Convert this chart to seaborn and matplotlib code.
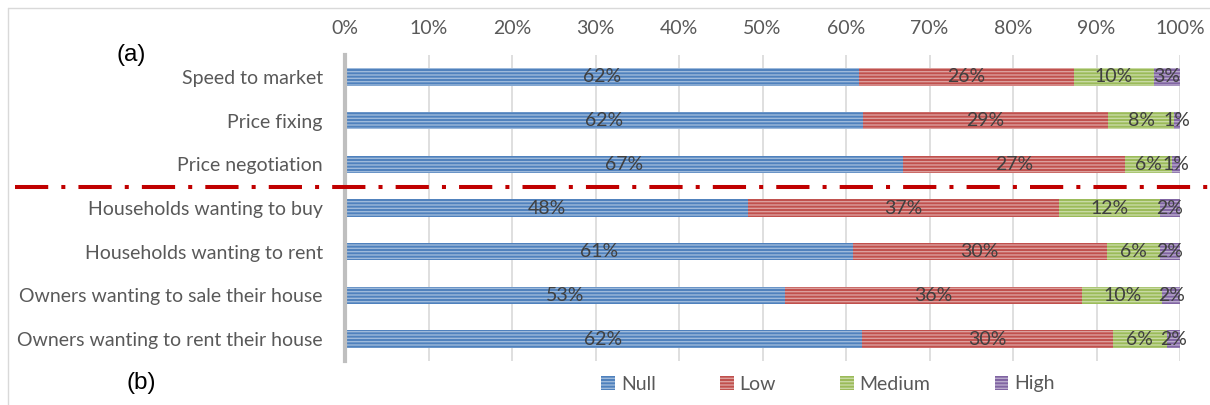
import matplotlib
matplotlib.use("Agg")
import matplotlib.pyplot as plt
import matplotlib.colors as mcolors
from matplotlib.lines import Line2D
from matplotlib.patches import Patch
import pandas as pd
import seaborn as sns

categories = [
    "Speed to market",
    "Price fixing",
    "Price negotiation",
    "Households wanting to buy",
    "Households wanting to rent",
    "Owners wanting to sale their house",
    "Owners wanting to rent their house",
]
levels = ["Null", "Low", "Medium", "High"]
null_vals = [61.6, 62.0, 66.8, 48.3, 60.8, 52.7, 61.9]
low_vals = [25.7, 29.4, 26.6, 37.2, 30.4, 35.6, 30.1]
medium_vals = [9.6, 7.9, 5.7, 12.1, 6.4, 9.6, 6.4]
high_vals = [3.1, 0.7, 0.9, 2.4, 2.4, 2.1, 1.6]
tick_vals = list(range(0, 101, 10))

colors = {"Null": "#4F81BD", "Low": "#C0504D", "Medium": "#9BBB59", "High": "#8064A2"}


def lighten(c, amt=0.45):
    r, g, b = mcolors.to_rgb(c)
    return (r + (1 - r) * amt, g + (1 - g) * amt, b + (1 - b) * amt)


def main():
    sns.set_style("white")
    plt.rcParams["font.family"] = ["Lato", "DejaVu Sans"]
    plt.rcParams["hatch.linewidth"] = 1.0

    df = pd.DataFrame({"category": categories, "Null": null_vals, "Low": low_vals,
                       "Medium": medium_vals, "High": high_vals})
    cum = df[levels].cumsum(axis=1)

    fig = plt.figure(figsize=(12.1, 4.05), dpi=100)
    ax = fig.add_axes([345 / 1210, 1 - 361 / 405, 835 / 1210, 306 / 405])

    for lvl in reversed(levels):
        sns.barplot(x=cum[lvl], y=df["category"], orient="h", color=colors[lvl],
                    saturation=1, width=0.4, ax=ax, hatch="-----",
                    edgecolor=lighten(colors[lvl]), linewidth=0, zorder=2)

    # percentage labels in the middle of each segment
    for lvl in levels:
        for i, (v, c) in enumerate(zip(df[lvl], cum[lvl])):
            ax.text(c - v / 2, i, f"{round(v):.0f}%", ha="center", va="center",
                    fontsize=14, color="#404040", zorder=5)

    ax.set_xlim(0, 100)
    ax.set_xticks(tick_vals)
    ax.set_xticklabels([f"{t}%" for t in tick_vals])
    ax.xaxis.tick_top()
    ax.tick_params(axis="x", length=0, pad=13, labelsize=14, labelcolor="#595959")
    ax.tick_params(axis="y", length=0, pad=16, labelsize=14, labelcolor="#595959")
    ax.set_xlabel("")
    ax.set_ylabel("")
    ax.grid(axis="x", color="#D9D9D9", linewidth=1.2, zorder=0)
    ax.set_axisbelow(True)
    for side in ["top", "right", "bottom"]:
        ax.spines[side].set_visible(False)
    ax.spines["left"].set_color("#BFBFBF")
    ax.spines["left"].set_linewidth(3)

    # separator between (a) and (b)
    fig.add_artist(Line2D([15 / 1210, 1.0], [1 - 187 / 405] * 2, color="#C00000",
                          linewidth=2.9, dashes=(8.25, 3.25, 1.0, 3.25)))
    # outer frame (top / left)
    fig.add_artist(Line2D([8 / 1210, 1.0], [1 - 8 / 405] * 2, color="#D9D9D9", linewidth=1))
    fig.add_artist(Line2D([8 / 1210] * 2, [0, 1 - 8 / 405], color="#D9D9D9", linewidth=1))

    fig.text(131 / 1210, 1 - 55 / 405, "(a)", fontsize=17.5, family="Liberation Sans",
             ha="center", va="center", color="black")
    fig.text(141 / 1210, 1 - 383 / 405, "(b)", fontsize=17.5, family="Liberation Sans",
             ha="center", va="center", color="black")

    handles = [Patch(facecolor=colors[l], edgecolor=lighten(colors[l]), hatch="-----",
                     linewidth=0) for l in levels]
    fig.legend(handles, levels, loc="center", bbox_to_anchor=(828 / 1210, 1 - 384 / 405),
               ncol=4, frameon=False, fontsize=14, labelcolor="#595959",
               handlelength=0.7, handleheight=0.7, handletextpad=0.3, columnspacing=3.3)

    fig.savefig("out.png", dpi=100)


if __name__ == "__main__":
    main()
